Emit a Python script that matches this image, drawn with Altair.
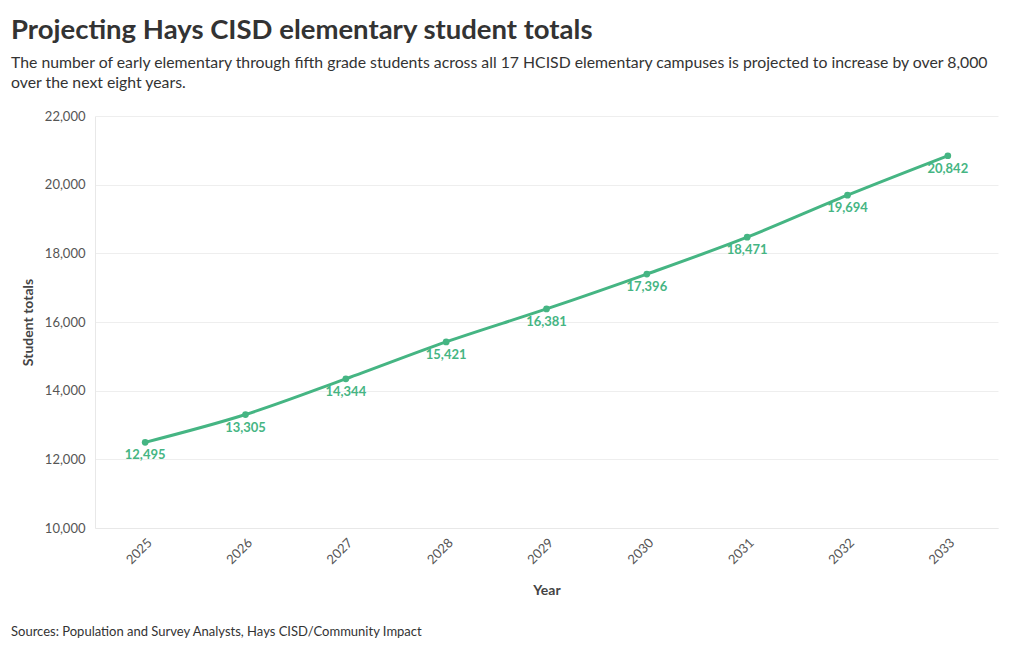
import altair as alt
import pandas as pd

years = ["2025", "2026", "2027", "2028", "2029", "2030", "2031", "2032", "2033"]
totals = [12495, 13305, 14344, 15421, 16381, 17396, 18471, 19694, 20842]

df = pd.DataFrame({"Year": years, "Total": totals})

FONT = "Lato"
GREEN = "#45b583"
W, H = 903, 412

x = alt.X("Year:O", title="Year",
          scale=alt.Scale(type="point", padding=0.5),
          axis=alt.Axis(labelAngle=-45, labelFontSize=13, labelColor="#555",
                        titleFontSize=14, titleFontWeight="bold", titleColor="#444",
                        titlePadding=17, ticks=False, domain=True, domainColor="#e8e8e8",
                        labelPadding=8, grid=False))
y = alt.Y("Total:Q", title="Student totals",
          scale=alt.Scale(domain=[10000, 22000]),
          axis=alt.Axis(values=[10000, 12000, 14000, 16000, 18000, 20000, 22000],
                        format=",d", labelFontSize=13, labelColor="#555",
                        titleFontSize=14, titleFontWeight="bold", titleColor="#444",
                        titlePadding=9, ticks=False, domain=True, domainColor="#e8e8e8",
                        gridColor="#eeeeee", labelPadding=10))

base = alt.Chart(df)
line = base.mark_line(color=GREEN, strokeWidth=3, interpolate="monotone").encode(x=x, y=y)
pts = base.mark_circle(color=GREEN, size=45, opacity=1).encode(x=x, y=y)
labels = base.mark_text(color=GREEN, fontWeight="bold", fontSize=13, dy=13,
                        baseline="middle", font=FONT).encode(
    x=x, y=y, text=alt.Text("Total:Q", format=","))

source = alt.Chart(pd.DataFrame({"t": ["Sources: Population and Survey Analysts, Hays CISD/Community Impact"]})).mark_text(
    align="left", baseline="alphabetic", fontSize=13, color="#333", font=FONT
).encode(x=alt.value(-84), y=alt.value(H + 108), text="t:N")

chart = alt.layer(line, pts, labels, source).properties(
    width=W, height=H,
    autosize=alt.AutoSizeParams(type="none"),
    padding={"left": 87, "top": 108, "right": 14, "bottom": 120},
    title=alt.TitleParams(
        text="Projecting Hays CISD elementary student totals",
        subtitle=["The number of early elementary through fifth grade students across all 17 HCISD elementary campuses is projected to increase by over 8,000",
                  "over the next eight years."],
        anchor="start", frame="group", dx=-84, offset=19,
        fontSize=27.5, fontWeight="bold", color="#333", font=FONT,
        subtitleFontSize=15.8, subtitleColor="#333", subtitleFont=FONT,
        subtitlePadding=12, subtitleLineHeight=20,
    ),
).configure_view(stroke=None).configure_axis(labelFont=FONT, titleFont=FONT)

chart.save("out.html", embed_options={"renderer": "svg", "actions": False})
